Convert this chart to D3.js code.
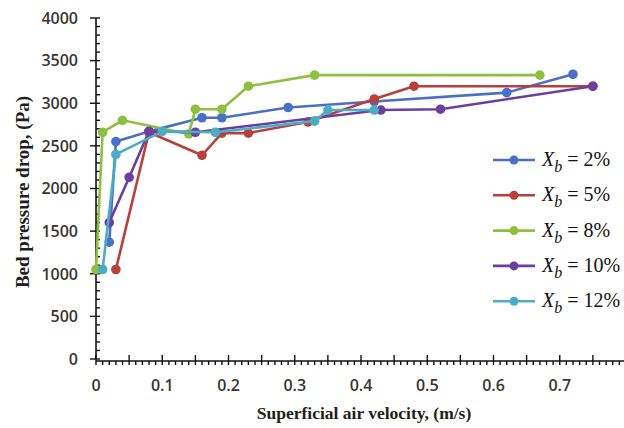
<!DOCTYPE html>
<html><head><meta charset="utf-8">
<script src="https://cdn.jsdelivr.net/npm/d3@7/dist/d3.min.js"></script>
<style>body{margin:0;background:#fff}svg{display:block}</style>
</head><body>
<svg id="c" width="624" height="428"></svg>
<script>
const seriesNames = ["2%", "5%", "8%", "10%", "12%"];
const colors = ["#4A6FC7", "#B8403B", "#8DC03F", "#6C3F9E", "#4BACC6"];
const x2 = [0.02, 0.03, 0.08, 0.16, 0.19, 0.29, 0.42, 0.62, 0.72];
const y2 = [1370, 2550, 2670, 2830, 2830, 2950, 3020, 3125, 3340];
const x5 = [0.03, 0.08, 0.16, 0.19, 0.23, 0.32, 0.42, 0.48, 0.75];
const y5 = [1050, 2660, 2390, 2650, 2650, 2780, 3050, 3200, 3200];
const x8 = [0, 0.01, 0.04, 0.14, 0.15, 0.19, 0.23, 0.33, 0.67];
const y8 = [1050, 2660, 2800, 2640, 2930, 2930, 3200, 3330, 3330];
const x10 = [0.02, 0.05, 0.08, 0.15, 0.43, 0.52, 0.75];
const y10 = [1600, 2130, 2670, 2660, 2920, 2930, 3200];
const x12 = [0.01, 0.03, 0.1, 0.18, 0.33, 0.35, 0.42];
const y12 = [1050, 2400, 2670, 2660, 2790, 2920, 2920];
const xTickLabels = [0, 0.1, 0.2, 0.3, 0.4, 0.5, 0.6, 0.7];
const yTickLabels = [0, 500, 1000, 1500, 2000, 2500, 3000, 3500, 4000];

const xs = [x2, x5, x8, x10, x12], ys = [y2, y5, y8, y10, y12];
const svg = d3.select("#c");
const x = d3.scaleLinear().domain([0, 0.8]).range([96, 626]);
const y = d3.scaleLinear().domain([0, 4000]).range([359, 18]);
const axisColor = "#111";

// Y axis
const gy = svg.append("g");
gy.append("line").attr("x1", x(0)).attr("x2", x(0)).attr("y1", y(0)).attr("y2", y(4000)).attr("stroke", axisColor).attr("stroke-width", 1.6);
d3.range(0, 4001, 100).forEach(v => {
  const major = v % 500 === 0;
  gy.append("line").attr("x1", major ? x(0) - 6 : x(0)).attr("x2", x(0) + 4)
    .attr("y1", y(v)).attr("y2", y(v)).attr("stroke", axisColor).attr("stroke-width", 1.4);
});
gy.selectAll("text").data(yTickLabels).join("text")
  .attr("x", 78).attr("y", d => y(d)).attr("dy", "0.36em").attr("text-anchor", "end")
  .attr("font-family", "Open Sans").attr("font-weight", 600).attr("font-size", 16).attr("fill", "#3a3530").text(d => d);

// X axis
const gx = svg.append("g");
gx.append("line").attr("x1", x(0)).attr("x2", 626).attr("y1", 361).attr("y2", 361).attr("stroke", axisColor).attr("stroke-width", 1.6);
d3.range(0, 81, 1).forEach(i => {
  const v = i / 100, major = i % 5 === 0;
  gx.append("line").attr("x1", x(v)).attr("x2", x(v))
    .attr("y1", major ? 355 : 361).attr("y2", 365).attr("stroke", axisColor).attr("stroke-width", 1.4);
});
gx.selectAll("text").data(xTickLabels).join("text")
  .attr("x", d => x(d)).attr("y", 391).attr("text-anchor", "middle")
  .attr("font-family", "Open Sans").attr("font-weight", 600).attr("font-size", 16).attr("fill", "#3a3530").text(d => d);

// Titles
svg.append("text").attr("x", 364).attr("y", 419).attr("text-anchor", "middle")
  .attr("font-family", "Liberation Serif").attr("font-weight", "bold").attr("font-size", 17.5).attr("fill", "#221e1a")
  .text("Superficial air velocity, (m/s)");
svg.append("text").attr("transform", "translate(29,192) rotate(-90)").attr("text-anchor", "middle")
  .attr("font-family", "Liberation Serif").attr("font-weight", "bold").attr("font-size", 19).attr("fill", "#221e1a")
  .text("Bed pressure drop, (Pa)");

// Series
const line = d3.line().x(d => x(d[0])).y(d => y(d[1]));
xs.forEach((xv, i) => {
  const pts = xv.map((v, j) => [v, ys[i][j]]);
  const g = svg.append("g");
  g.append("path").datum(pts).attr("d", line).attr("fill", "none")
    .attr("stroke", colors[i]).attr("stroke-width", 2.6).attr("stroke-linejoin", "round");
  g.selectAll("circle").data(pts).join("circle")
    .attr("cx", d => x(d[0])).attr("cy", d => y(d[1])).attr("r", 4.8).attr("fill", colors[i]);
});

// Legend
const lg = svg.append("g");
seriesNames.forEach((n, i) => {
  const cy = 160 + i * 35.3;
  lg.append("line").attr("x1", 493).attr("x2", 535).attr("y1", cy).attr("y2", cy).attr("stroke", colors[i]).attr("stroke-width", 2.6);
  lg.append("circle").attr("cx", 514).attr("cy", cy).attr("r", 4.5).attr("fill", colors[i]);
  const t = lg.append("text").attr("x", 542).attr("y", cy + 6)
    .attr("font-family", "Liberation Serif").attr("font-size", 20).attr("fill", "#111");
  t.append("tspan").attr("font-style", "italic").text("X");
  t.append("tspan").attr("font-style", "italic").attr("font-size", 16).attr("dy", 6).text("b");
  t.append("tspan").attr("dy", -6).text(" = " + n);
});
</script>
</body></html>
